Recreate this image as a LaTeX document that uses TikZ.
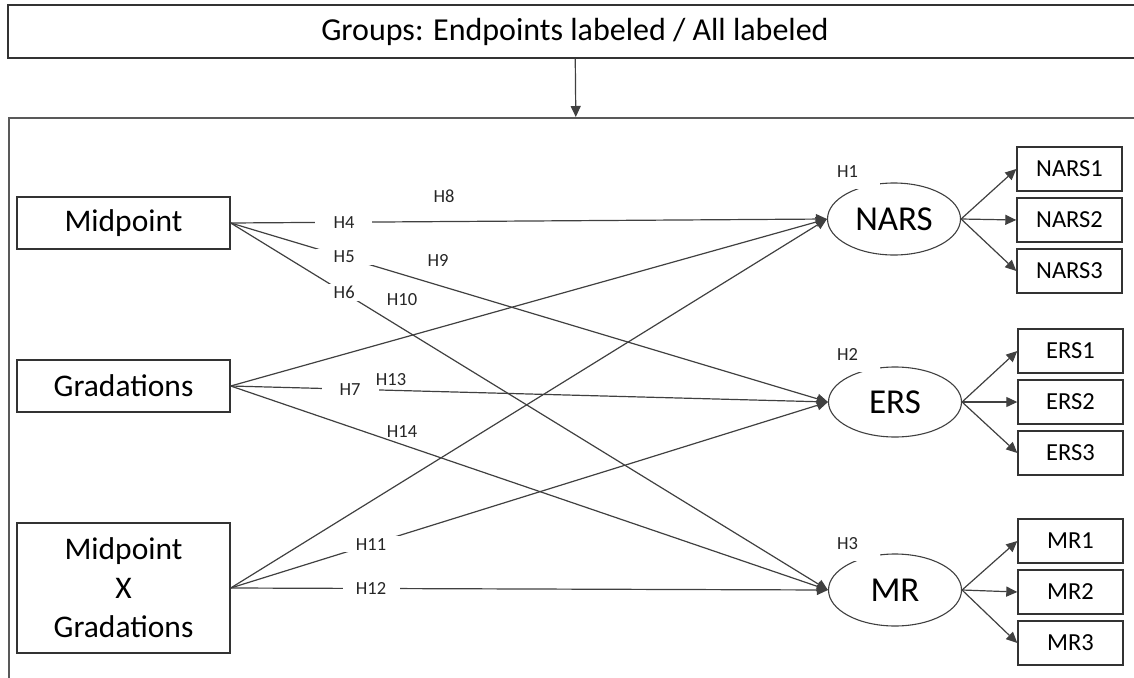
\documentclass[tikz,border=0pt]{standalone}
\usepackage{fontspec}
\setmainfont{Carlito}
\usepackage{tikz}
\usetikzlibrary{shapes.geometric, arrows.meta, positioning}
\tikzset{
  factorbox/.style={
    rectangle, draw=black!80, line width=1.4pt, fill=white,
    minimum width=213, minimum height=52, align=center,
    font=\fontsize{31.5}{39}\selectfont
  },
  latentnode/.style={
    ellipse, draw=black!75, line width=1.1pt, fill=white, inner sep=0pt,
    minimum width=133, minimum height=72, font=\fontsize{35}{42}\selectfont
  },
  itembox/.style={
    rectangle, draw=black!80, line width=1.4pt,
    minimum width=105, minimum height=44, font=\fontsize{24.5}{29}\selectfont
  },
  hlabel/.style={
    font=\fontsize{18.5}{22}\selectfont, text=black!85, inner sep=2pt
  },
  cutlabel/.style={
    hlabel, fill=white, minimum width=57
  },
  toplabel/.style={
    hlabel, fill=white, anchor=north west, text width=39, align=left,
    inner xsep=4pt, minimum height=36
  },
  pathline/.style={
    draw=black!75, line width=1.2pt
  },
  patharrow/.style={
    pathline, ->, >={Triangle[length=11pt,width=10pt]}
  }
}

\begin{document}
\begin{tikzpicture}[x=1pt, y=-1pt, node distance=51]
  \useasboundingbox (0,0) rectangle (1134,677);
  \clip (0,0) rectangle (1134,677);

  % header and frame
  \node[factorbox, minimum width=1134, minimum height=53, font=\fontsize{32}{38}\selectfont] (groups) at (575,31.5) {Groups: Endpoints labeled / All labeled};
  \node[draw=black!65, line width=1.6pt, minimum width=1134, minimum height=620, anchor=north west, inner sep=0pt] (frame) at (8,117) {};
  \draw[patharrow] (groups) -- (frame.north);

  % predictors
  \node[factorbox] (mid) at (123.5,223) {Midpoint};
  \node[factorbox] (grad) at (123.5,386) {Gradations};
  \node[factorbox, minimum height=130] (midgrad) at (123.5,588) {Midpoint\\X\\Gradations};

  % latent factors
  \node[latentnode] (nars) at (894,219) {NARS};
  \node[latentnode, minimum height=70] (ers) at (895,402) {ERS};
  \node[latentnode] (mr) at (895,590) {MR};
  \node[toplabel] (h1) at (833,153) {H1};
  \node[toplabel] (h2) at (833,336) {H2};
  \node[toplabel] (h3) at (833,525) {H3};

  % indicators
  \node[itembox] (nars1) at (1069.5,169) {NARS1};
  \node[itembox, below of=nars1] (nars2) {NARS2};
  \node[itembox, below of=nars2] (nars3) {NARS3};
  \node[itembox] (ers1) at (1070.5,351) {ERS1};
  \node[itembox, below of=ers1] (ers2) {ERS2};
  \node[itembox, below of=ers2] (ers3) {ERS3};
  \node[itembox] (mr1) at (1070.5,541) {MR1};
  \node[itembox, below of=mr1] (mr2) {MR2};
  \node[itembox, below of=mr2] (mr3) {MR3};

  \foreach \f in {nars,ers,mr}
    \foreach \i in {1,2,3}
      \draw[patharrow] (\f.east) -- (\f\i.west);

  % structural paths
  \draw[patharrow] (mid.east) -- node[cutlabel, pos=0.19] (h4) {H4} (nars.west);
  \draw[patharrow] (mid.east) -- node[cutlabel, pos=0.19] (h5) {H5} (ers.west);
  \draw[patharrow] (mid.east) -- node[cutlabel, pos=0.19] (h6) {H6} (mr.west);
  \draw[patharrow] (grad.east) -- (nars.west);
  \draw[patharrow] (grad.east) -- node[cutlabel, pos=0.2] (h7) {H7} (ers.west);
  \draw[patharrow] (grad.east) -- (mr.west);
  \draw[patharrow] (midgrad.east) -- (nars.west);
  \draw[patharrow] (midgrad.east) -- node[cutlabel, pos=0.235] (h11) {H11} (ers.west);
  \draw[patharrow] (midgrad.east) -- node[cutlabel, pos=0.235] (h12) {H12} (mr.west);

  \node[hlabel] (h8) at (444,196) {H8};
  \node[hlabel] (h9) at (438,260) {H9};
  \node[hlabel] (h10) at (402,300) {H10};
  \node[hlabel] (h13) at (391,380) {H13};
  \node[hlabel] (h14) at (402,432) {H14};
\end{tikzpicture}
\end{document}
